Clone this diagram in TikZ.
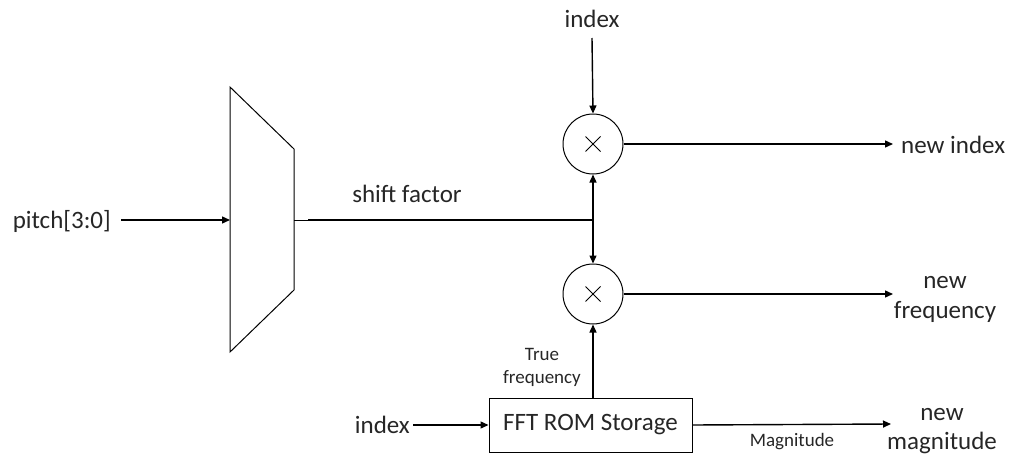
\documentclass[tikz,border=0pt]{standalone}
\usepackage{fontspec}
\setmainfont{Carlito}
\usetikzlibrary{arrows.meta}
\definecolor{txt}{HTML}{262626}
\begin{document}
\begin{tikzpicture}[x=1pt,y=-1pt,
  lbl/.style={text=txt,font=\fontsize{25}{30}\selectfont,inner sep=0pt},
  small/.style={text=txt,font=\fontsize{19}{23}\selectfont,inner sep=0pt},
  wire/.style={line width=1.4pt,-{Triangle[length=8pt,width=7pt]}},
  mult/.style={circle,draw,line width=1pt,minimum size=60pt,inner sep=0pt},
  romblock/.style={draw,line width=1pt,minimum width=203pt,minimum height=54pt,inner sep=0pt,text=txt,font=\fontsize{25}{30}\selectfont}]
\useasboundingbox (0,0) rectangle (1012,455);
% mux
\draw[line width=1pt] (230,87) -- (294,149) -- (294,290) -- (230,352) -- cycle;
\coordinate (muxin) at (230,220);
\coordinate (muxout) at (294,220);
\coordinate (junc) at (593,220);
% multipliers
\node[mult] (m1) at (593,144) {};
\node[mult] (m2) at (593,294) {};
\foreach \m in {m1,m2}{
  \draw[line width=1pt] ([shift={(-7.5,-7.5)}]\m.center) -- ([shift={(7.5,7.5)}]\m.center);
  \draw[line width=1pt] ([shift={(-7.5,7.5)}]\m.center) -- ([shift={(7.5,-7.5)}]\m.center);
}
% ROM
\node[romblock] (rom) at (590.5,425) {FFT ROM Storage};
% labels
\node[lbl,anchor=east] (pitch) at (111,221) {pitch[3:0]};
\node[lbl] (shift) at (407,194) {shift factor};
\node[lbl] (idxtop) at (592,19) {index};
\node[lbl,anchor=west] (newidx) at (901,145) {new index};
\node[lbl,align=center] (newfreq) at (945,299) {new\\frequency};
\node[lbl,anchor=east] (idxleft) at (410,425) {index};
\node[lbl,align=center,font=\fontsize{25}{29}\selectfont] (newmag) at (942,431) {new\\magnitude};
\node[small,align=center] (truefreq) at (542,367) {True\\frequency};
\node[small] (mag) at (792,442) {Magnitude};
\coordinate (ni) at (893,144);
\coordinate (nf) at (893,294);
\coordinate (nm) at (891,424);
% connectors
\draw[wire] ([xshift=10pt]pitch.east |- muxin) -- (muxin);
\draw[line width=1pt] (muxout) -- ++(14,0);
\draw[line width=2.8pt] ([xshift=14pt]muxout) -- (junc);
\draw[wire] (junc) -- (m1.south);
\draw[wire] (junc) -- (m2.north);
\draw[wire] (idxtop.south |- 0,38) -- (m1.north);
\draw[wire] (m1.east) -- (ni);
\draw[wire] (m2.east) -- (nf);
\draw[wire] ([xshift=3pt]idxleft.east |- rom.west) -- (rom.west);
\draw[wire] (rom.north -| m2.south) -- (m2.south);
\draw[wire] (rom.east) -- (nm);
\end{tikzpicture}
\end{document}
